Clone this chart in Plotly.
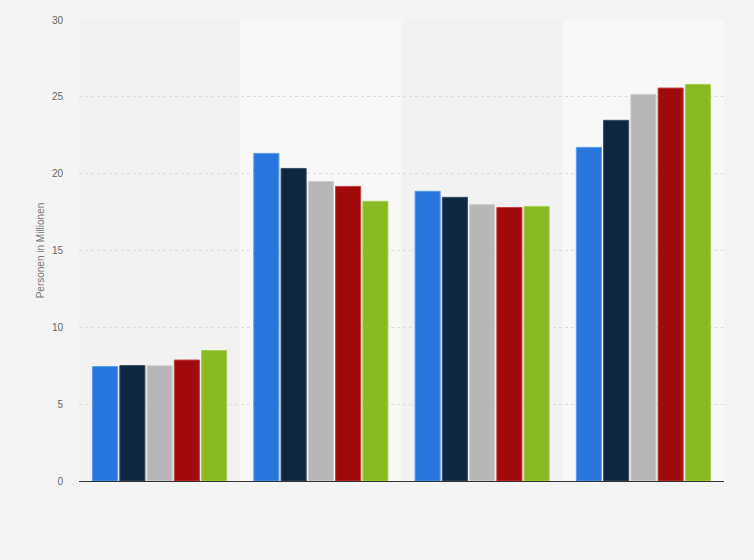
import plotly.graph_objects as go

# categories (x labels are not shown in the chart)
categories = ['Gruppe 1', 'Gruppe 2', 'Gruppe 3', 'Gruppe 4']

# series values in millions
series_names = ['Serie 1', 'Serie 2', 'Serie 3', 'Serie 4', 'Serie 5']
serie_1 = [7.45, 21.32, 18.85, 21.71]
serie_2 = [7.51, 20.34, 18.46, 23.47]
serie_3 = [7.50, 19.50, 18.00, 25.16]
serie_4 = [7.87, 19.17, 17.80, 25.57]
serie_5 = [8.49, 18.20, 17.87, 25.81]

colors = ['#2876dd', '#0f2640', '#b7b7b7', '#a10a0a', '#8ab923']
outline = ['#5a9ae8', '#3a4c62', '#d0d0d0', '#c04040', '#a6d050']

fig = go.Figure()
for name, vals, col, ln in zip(series_names,
                               [serie_1, serie_2, serie_3, serie_4, serie_5],
                               colors, outline):
    fig.add_trace(go.Bar(x=categories, y=vals, name=name,
                         marker=dict(color=col, line=dict(color=ln, width=1))))

# lighter background bands behind every second group
for i in [1, 3]:
    fig.add_shape(type='rect', xref='x', yref='paper',
                  x0=i - 0.5, x1=i + 0.5, y0=0, y1=1,
                  fillcolor='#f8f8f8', line_width=0, layer='below')

fig.update_layout(
    width=754, height=560,
    paper_bgcolor='#f4f4f4', plot_bgcolor='#f2f2f2',
    margin=dict(l=79, r=30, t=20, b=79),
    barmode='group', bargap=0.155, bargroupgap=0.08,
    showlegend=False,
    font=dict(family='Arial, Liberation Sans, sans-serif', size=10, color='#666666'),
)
fig.update_xaxes(showticklabels=False, showgrid=False, ticks='',
                 showline=True, linecolor='#333333', linewidth=1)
fig.update_yaxes(range=[0, 30], dtick=5, showgrid=True, gridcolor='#dcdcdc',
                 griddash='dot', gridwidth=1, zeroline=False,
                 ticks='', ticklabelstandoff=15,
                 title=dict(text='Personen in Millionen', font=dict(size=10, color='#777777'),
                            standoff=5))

# remove the default page margin so the figure fills the window
fig.write_html("out.html",
               config={'displayModeBar': False},
               post_script="document.body.style.margin='0';"
                           "document.body.style.background='#f4f4f4';")
